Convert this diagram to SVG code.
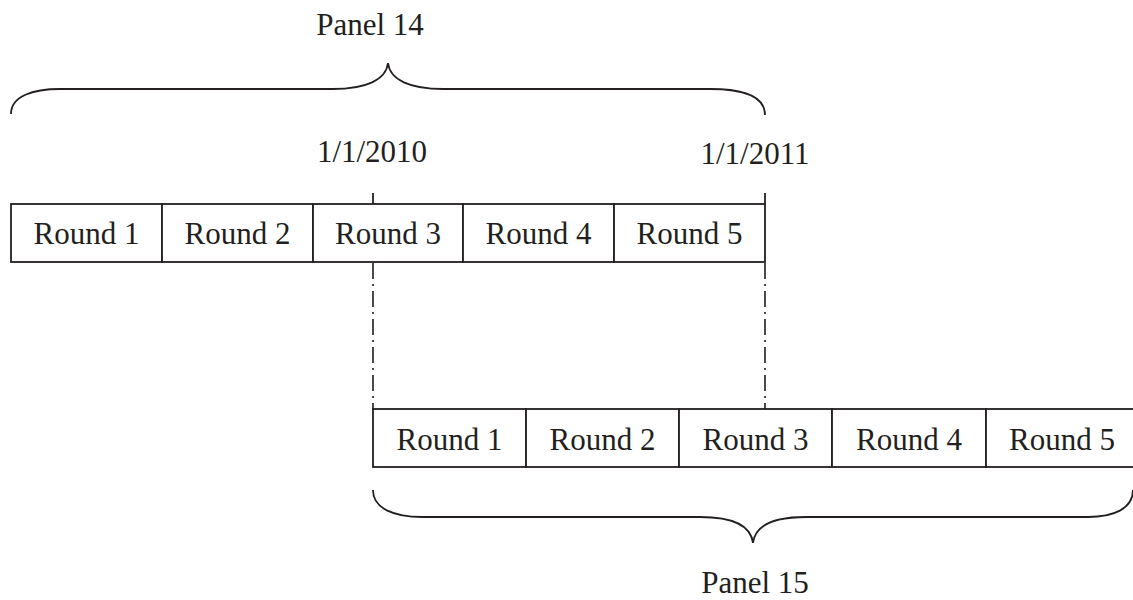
<svg xmlns="http://www.w3.org/2000/svg" width="1133" height="600" viewBox="0 0 1133 600">
<style>
text{font-family:"Liberation Serif","Times New Roman",serif;font-size:31px;fill:#231f20}
.box{fill:#fff;stroke:#231f20;stroke-width:1.8}
.ln{fill:none;stroke:#231f20;stroke-width:1.8}
.dd{fill:none;stroke:#231f20;stroke-width:1.6;stroke-dasharray:16 5 2 5}
</style>
<rect width="1133" height="600" fill="#fff"/>
<g id="panel14-brace">
<path class="ln" d="M11,114 C11,96 33,89 60,89 L333,89 C366,89 386,80 388,63 C390,80 410,89 443,89 L710,89 C742,89 765,96 765,115"/>
<text x="370" y="35" text-anchor="middle">Panel 14</text>
</g>
<g id="date2010"><text x="372" y="162" text-anchor="middle">1/1/2010</text></g>
<g id="date2011"><text x="755" y="164" text-anchor="middle">1/1/2011</text></g>
<g id="row14">
<g id="p14r1"><rect class="box" x="11" y="204" width="151" height="58"/><text x="86.5" y="244" text-anchor="middle">Round 1</text></g>
<g id="p14r2"><rect class="box" x="162" y="204" width="151" height="58"/><text x="237.5" y="244" text-anchor="middle">Round 2</text></g>
<g id="p14r3"><rect class="box" x="313" y="204" width="150" height="58"/><text x="388" y="244" text-anchor="middle">Round 3</text></g>
<g id="p14r4"><rect class="box" x="463" y="204" width="151" height="58"/><text x="538.5" y="244" text-anchor="middle">Round 4</text></g>
<g id="p14r5"><rect class="box" x="614" y="204" width="151" height="58"/><text x="689.5" y="244" text-anchor="middle">Round 5</text></g>
</g>
<g id="row15">
<g id="p15r1"><rect class="box" x="373" y="409" width="153" height="58"/><text x="449.5" y="450" text-anchor="middle">Round 1</text></g>
<g id="p15r2"><rect class="box" x="526" y="409" width="153" height="58"/><text x="602.5" y="450" text-anchor="middle">Round 2</text></g>
<g id="p15r3"><rect class="box" x="679" y="409" width="153" height="58"/><text x="755.5" y="450" text-anchor="middle">Round 3</text></g>
<g id="p15r4"><rect class="box" x="832" y="409" width="154" height="58"/><text x="909" y="450" text-anchor="middle">Round 4</text></g>
<g id="p15r5"><rect class="box" x="986" y="409" width="160" height="58"/><text x="1062" y="450" text-anchor="middle">Round 5</text></g>
</g>
<g id="connectors">
<line class="ln" x1="373" y1="193" x2="373" y2="204"/>
<line class="ln" x1="765" y1="193" x2="765" y2="204"/>
<line class="dd" x1="373" y1="263" x2="373" y2="409"/>
<line class="dd" x1="765" y1="263" x2="765" y2="409"/>
</g>
<g id="panel15-brace">
<path class="ln" d="M373,490 C373,509 395,517 422,517 L700,517 C733,517 751,526 753,543 C755,526 773,517 806,517 L1088,517 C1113,517 1133,509 1133,490"/>
<text x="755" y="593" text-anchor="middle">Panel 15</text>
</g>
</svg>
